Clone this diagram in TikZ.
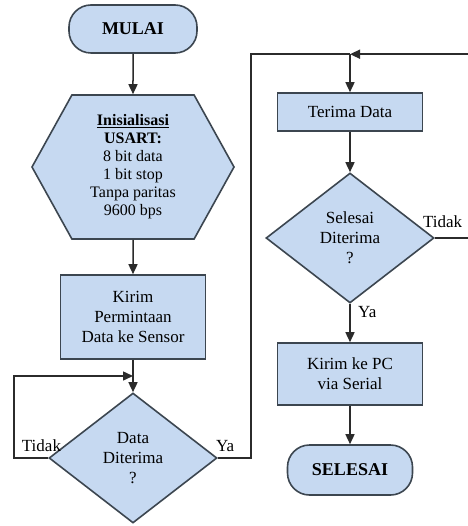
\documentclass[tikz,border=0pt]{standalone}
\usepackage{fontspec}
\setmainfont{Liberation Serif}
\usetikzlibrary{shapes.geometric,shapes.symbols,arrows.meta,calc}
\definecolor{boxfill}{HTML}{C6D9F1}
\definecolor{boxline}{HTML}{3C4650}
\definecolor{wirec}{HTML}{2B2B2B}
\tikzset{
  box/.style={draw=boxline, fill=boxfill, line width=1.6pt, align=center, inner sep=0pt, font=\fontsize{17}{20}\selectfont},
  term/.style={box, rectangle, rounded corners=22pt, minimum width=128pt, minimum height=48pt, font=\bfseries\fontsize{18}{20}\selectfont},
  proc/.style={box, rectangle, minimum width=145pt},
  hexa/.style={box, signal, signal to=east and west, signal pointer angle=122, minimum width=202pt, minimum height=144pt, font=\fontsize{16}{18}\selectfont},
  cond/.style={box, diamond, minimum width=168pt, minimum height=130pt},
  wire/.style={draw=wirec, line width=1.5pt},
  arr/.style={wire, -{Triangle[length=10pt,width=9pt]}},
  lab/.style={font=\fontsize{17}{20}\selectfont, inner sep=1pt},
}
\begin{document}
\begin{tikzpicture}[x=1pt,y=-1pt]
  \useasboundingbox[fill=white] (0,0) rectangle (467,526);
  % kolom kiri
  \node[term] (mulai) at (133,29) {MULAI};
  \node[hexa] (init) at (133,167) {\textbf{\underline{Inisialisasi}}\\\textbf{USART:}\\8 bit data\\1 bit stop\\Tanpa paritas\\9600 bps};
  \node[proc,minimum height=84pt] (kirim) at (133,317) {Kirim\\Permintaan\\Data ke Sensor};
  \node[cond] (cekdata) at (133,458) {Data\\Diterima\\?};
  % kolom kanan
  \node[proc,minimum height=38pt] (terima) at (350,112) {Terima Data};
  \node[cond] (cekselesai) at (350,238) {Selesai\\Diterima\\?};
  \node[proc,minimum height=62pt] (kirimpc) at (350,374) {Kirim ke PC\\via Serial};
  \node[term,minimum width=125pt,minimum height=50pt] (selesai) at (350,470) {SELESAI};

  \coordinate (gabung) at ($(kirim.south)!.5!(cekdata.north)$);
  \coordinate (atas) at ($(terima.north)+(0,-38)$);

  \draw[arr] (mulai) -- (init);
  \draw[arr] (init) -- (kirim);
  \draw[arr] (kirim) -- (cekdata);
  \draw[arr] (cekdata.west) -- ++(-34,0) |- (gabung);
  \draw[wire] (cekdata.east) -- ++(33,0) |- (atas);
  \draw[arr] (atas) -- (terima);
  \draw[arr] (terima) -- (cekselesai);
  \draw[arr] (cekselesai) -- (kirimpc);
  \draw[arr] (kirimpc) -- (selesai);
  \draw[arr] (cekselesai.east) -- ++(40,0) |- (atas);

  \node[lab,anchor=south east] (tidak1) at ($(cekdata.west)+(14,-5)$) {Tidak};
  \node[lab,anchor=south west] (ya1) at ($(cekdata.east)+(-3,-5)$) {Ya};
  \node[lab,anchor=south west] (tidak2) at ($(cekselesai.east)+(-13,-9)$) {Tidak};
  \node[lab,anchor=north west] (ya2) at ($(cekselesai.south)+(7,1)$) {Ya};
\end{tikzpicture}
\end{document}
